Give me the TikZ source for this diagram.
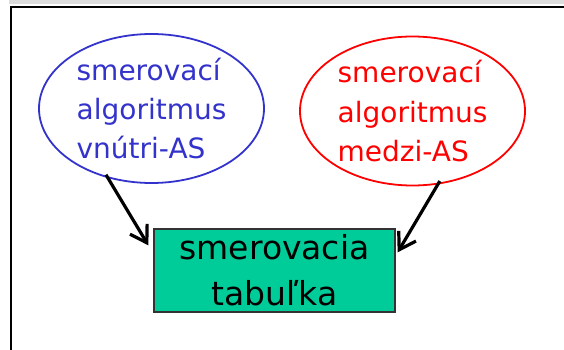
\documentclass[tikz,border=0pt]{standalone}
\usepackage{fontspec}
\setmainfont{DejaVu Sans}
\usetikzlibrary{shapes.geometric,arrows.meta}
\definecolor{algoblue}{RGB}{51,51,204}
\definecolor{tabgreen}{RGB}{0,204,153}
\definecolor{bargray}{RGB}{220,220,220}
\tikzset{
  algo/.style={draw, ellipse, line width=1.8pt, minimum width=225pt, minimum height=149pt,
    inner sep=0pt, align=left, font=\fontsize{28}{39}\selectfont},
  tab/.style={draw=black!80, fill=tabgreen, line width=1.3pt, minimum width=241pt,
    minimum height=83pt, inner sep=0pt, align=center, font=\fontsize{33}{46}\selectfont},
  feed/.style={line width=3.2pt, -{Straight Barb[length=16pt,width=20pt]}, shorten <=-4pt}
}
\begin{document}
\begin{tikzpicture}[x=1pt,y=-1pt]
                \useasboundingbox (0,0) rectangle (564,350);
                \fill [bargray] (9,0) rectangle (564,4);
                \draw [line width=2.2pt] (11,350) -- (11,7) -- (564,7);

                \node [algo, algoblue] (vnutri) at (151.5,108.5) {smerovací\\algoritmus\\vnútri-AS};
                \node [algo, red] (medzi) at (412.5,111) {smerovací\\algoritmus\\medzi-AS};
                \node [tab] (tabulka) at (274.5,270.5) {smerovacia\\tabuľka};

                \draw [feed] (vnutri.238) -- ([xshift=-5pt,yshift=-17pt]tabulka.north west);
                \draw [feed] (medzi.289) -- ([xshift=2pt,yshift=-24pt]tabulka.north east);
            \end{tikzpicture}
\end{document}
